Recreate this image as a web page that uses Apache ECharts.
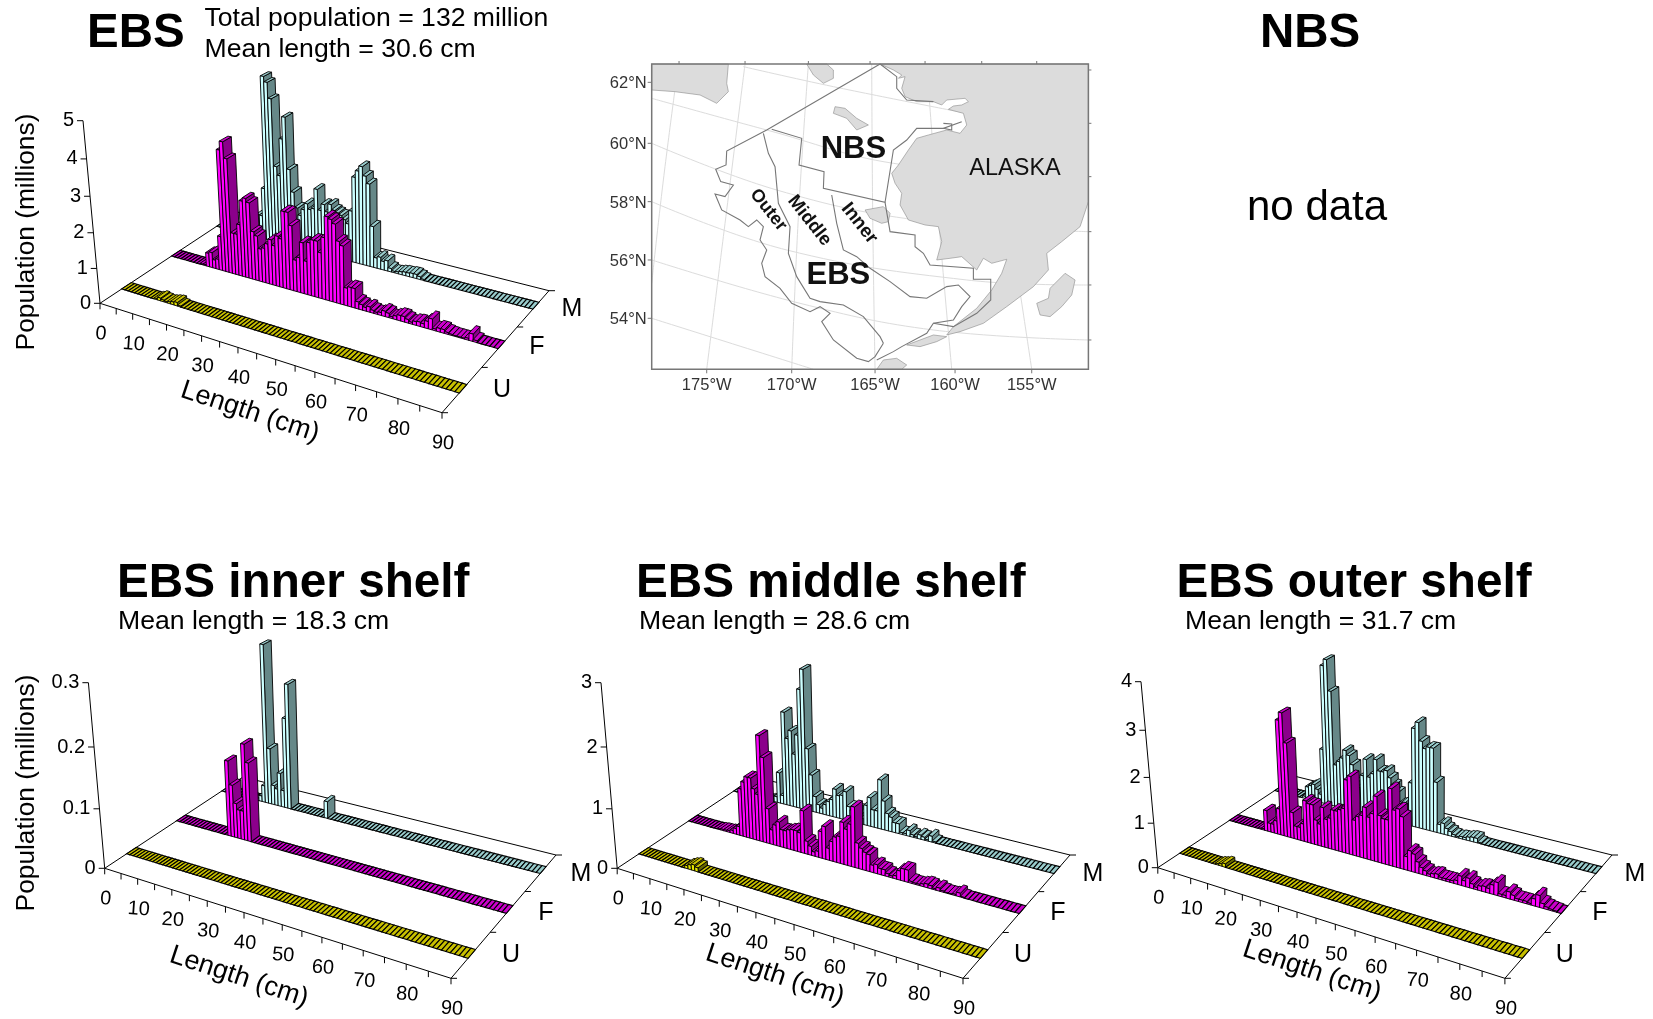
<!DOCTYPE html>
<html><head><meta charset="utf-8">
<style>html,body{margin:0;padding:0;background:#fff}#c{width:1653px;height:1019px}</style>
<script src="https://cdn.jsdelivr.net/npm/echarts@6/dist/echarts.min.js"></script>
</head><body><div id="c"></div>
<script>
// ---------- values (millions of animals per 1 cm length bin, 0..89 cm)
var ebsU=[0,0,0,0,0,0,0,0,0,0, .03,.08,.05,.03,.05,.08,.1,.03,0,0, 0,0,0,0,0,0,0,0,0,0, 0,0,0,0,0,0,0,0,0,0, 0,0,0,0,0,0,0,0,0,0, 0,0,0,0,0,0,0,0,0,0, 0,0,0,0,0,0,0,0,0,0, 0,0,0,0,0,0,0,0,0,0, 0,0,0,0,0,0,0,0,0,0];
var ebsF=[0,0,0,0,0,0,0,0,0,.02, .03,.4,.45,.25,.3,1.0,3.5,3.75,3.3,1.2, 1.2,1.5,2.2,2.3,2.2,1.4,1.3,.95,1.0,1.15, 1.3,1.15,1.45,1.4,2.2,2.2,1.85,.9,1.0,1.45, .95,1.5,1.6,1.6,1.3,1.75,2.35,2.3,2.2,1.75, 1.65,.5,.55,.55,.2,.15,.1,.15,.08,.05, .08,.15,.12,.05,.1,.15,.15,.1,.05,.1, .12,.1,.2,.3,.05,.1,.1,.05,.03,.02, .02,.02,.05,.2,.05,0,0,0,0,0];
var ebsM=[0,0,0,0,0,0,0,0,0,.02, .05,.1,.2,.7,.7,1.55,4.85,4.7,4.25,2.3, 2.05,3.15,3.8,2.3,1.65,1.2,1.0,1.2,1.4,1.25, 1.3,1.9,1.3,1.5,1.3,1.55,1.4,1.35,1.3,1.2, 1.1,1.5,2.5,2.7,2.85,2.6,2.4,1.2,.3,.35, .25,.3,.1,.04,.05,.08,.1,.1,.12,.12, .08,.03,0,0,0,0,0,0,0,0, 0,0,0,0,0,0,0,0,0,0, 0,0,0,0,0,0,0,0,0,0];
var innerU=[0,0,0,0,0,0,0,0,0,0, 0,0,0,0,0,0,0,0,0,0, 0,0,0,0,0,0,0,0,0,0, 0,0,0,0,0,0,0,0,0,0, 0,0,0,0,0,0,0,0,0,0, 0,0,0,0,0,0,0,0,0,0, 0,0,0,0,0,0,0,0,0,0, 0,0,0,0,0,0,0,0,0,0, 0,0,0,0,0,0,0,0,0,0];
var innerF=[0,0,0,0,0,0,0,0,0,0, 0,0,0,0,0,0,.13,.09,.06,.05, .05,.165,.135,0,0,0,0,0,0,0, 0,0,0,0,0,0,0,0,0,0, 0,0,0,0,0,0,0,0,0,0, 0,0,0,0,0,0,0,0,0,0, 0,0,0,0,0,0,0,0,0,0, 0,0,0,0,0,0,0,0,0,0, 0,0,0,0,0,0,0,0,0,0];
var innerM=[0,0,0,0,0,0,0,0,0,0, 0,0,.01,.03,.28,.1,.035,.03,.06,.03, .16,.22,0,0,0,0,0,0,0,0, 0,0,.03,0,0,0,0,0,0,0, 0,0,0,0,0,0,0,0,0,0, 0,0,0,0,0,0,0,0,0,0, 0,0,0,0,0,0,0,0,0,0, 0,0,0,0,0,0,0,0,0,0, 0,0,0,0,0,0,0,0,0,0];
var middleU=[0,0,0,0,0,0,0,0,0,0, 0,0,0,0,.05,.08,.1,.07,0,0, 0,0,0,0,0,0,0,0,0,0, 0,0,0,0,0,0,0,0,0,0, 0,0,0,0,0,0,0,0,0,0, 0,0,0,0,0,0,0,0,0,0, 0,0,0,0,0,0,0,0,0,0, 0,0,0,0,0,0,0,0,0,0, 0,0,0,0,0,0,0,0,0,0];
var middleF=[0,0,0,0,0,0,0,0,0,.01, .02,.02,.03,.05,.1,.15,.82,.95,1.05,1.05, .88,.8,1.8,1.45,.6,.25,.35,.42,.3,.3, .33,.35,.35,.33,.72,.22,.15,.07,.1,.45, .55,.2,.33,.42,.45,.7,.6,.7,1.0,.42, .35,.3,.28,.12,.15,.1,.1,.05,.03,.05, .15,.2,.2,.03,.02,.02,.04,.06,.05,.02, .05,.02,.01,.01,.02,.06,.01,0,0,0, 0,0,0,0,0,0,0,0,0,0];
var middleM=[0,0,0,0,0,0,0,0,0,0, 0,.02,.05,.1,.55,.15,1.65,1.2,1.35,.95, 1.3,2.1,2.45,1.1,.65,.28,.15,.1,.18,.25, .3,.5,.4,.42,.5,.25,.2,.2,.15,.1, .35,.5,.3,.3,.85,.5,.3,.25,.17,.17, .03,.03,.1,.04,.02,.07,.05,.02,.1,.02, 0,0,0,0,0,0,0,0,0,0, 0,0,0,0,0,0,0,0,0,0, 0,0,0,0,0,0,0,0,0,0];
var outerU=[0,0,0,0,0,0,0,0,0,0, 0,.03,.05,.08,0,0,0,0,0,0, 0,0,0,0,0,0,0,0,0,0, 0,0,0,0,0,0,0,0,0,0, 0,0,0,0,0,0,0,0,0,0, 0,0,0,0,0,0,0,0,0,0, 0,0,0,0,0,0,0,0,0,0, 0,0,0,0,0,0,0,0,0,0, 0,0,0,0,0,0,0,0,0,0];
var outerF=[0,0,0,0,0,0,0,0,0,.02, .03,.48,.2,.2,.3,.6,2.62,2.8,2.15,.6, .3,.3,.4,.95,.9,.9,.57,.5,.9,.65, .7,.9,.9,.95,1.0,1.65,1.75,.8,.9,.95, 1.15,.95,1.05,1.45,1.05,1.0,1.0,1.7,1.25,1.3, 1.15,.3,.45,.4,.25,.15,.1,.05,.08,.1, .05,.05,.05,.05,.08,.2,.12,.2,.1,.05, .1,.12,.1,.2,.28,.05,.05,.15,.1,.05, .05,.05,.03,.15,.25,.1,.05,.03,.02,0];
var outerM=[0,0,0,0,0,0,0,0,0,.05, .3,.35,.4,.3,.2,1.3,3.25,3.4,2.7,1.0, 1.1,1.2,1.4,1.3,1.1,.7,.6,.9,1.3,.9, 1.0,1.35,1.1,1.1,1.15,1.0,.85,.7,.45,.5, .5,1.0,2.25,2.4,2.0,1.85,1.9,1.9,1.15,.2, .25,.15,.1,.05,.03,.05,.05,.08,.1,.1, .02,0,0,0,0,0,0,0,0,0, 0,0,0,0,0,0,0,0,0,0, 0,0,0,0,0,0,0,0,0,0];
// ---------- tick labels
var lengthTicks=[0,10,20,30,40,50,60,70,80,90];
var sexLabels=['U','F','M'];
var ebsTicks=['0','1','2','3','4','5'];
var innerTicks=['0','0.1','0.2','0.3'];
var middleTicks=['0','1','2','3'];
var outerTicks=['0','1','2','3','4'];
var latLabels=['62°N','60°N','58°N','56°N','54°N'];
var lonLabels=['175°W','170°W','165°W','160°W','155°W'];

// ---------- panel layout (screen geometry of each 3-D frame)
var panels=[
 {U:ebsU,F:ebsF,M:ebsM,ticks:ebsTicks,zmax:5,O:[100,303.3],X:[442,412.7],R:[549,290.7],L:[238,212.2],Z:[83,120.7],title:[250,412]},
 {U:innerU,F:innerF,M:innerM,ticks:innerTicks,zmax:.3,O:[104.7,868.3],X:[451,978.3],R:[556,855],L:[243,777],Z:[88.4,682.7],title:[239,977]},
 {U:middleU,F:middleF,M:middleM,ticks:middleTicks,zmax:3,O:[617.2,868.3],X:[963,978.3],R:[1070,855],L:[755,777],Z:[601,682.7],title:[775,975]},
 {U:outerU,F:outerF,M:outerM,ticks:outerTicks,zmax:4,O:[1157.8,867.7],X:[1504.9,978.3],R:[1612,855],L:[1296,776.5],Z:[1141,681.7],title:[1312,971]}
];
var DEPTH={U:.42,F:1.45,M:2.48}, DW=.19;
var STYLE={U:{front:'#e6e600',side:'#666600',top:'#c8c000'},
           F:{front:'#ff00ff',side:'#8b008b',top:'#cc00cc'},
           M:{front:'#ccffff',side:'#668888',top:'#99cccc'}};
var FONT='"Liberation Sans",Arial,sans-serif';

function makeCamera(p){
  var x0=p.O[0],y0=p.O[1],x1=p.X[0],y1=p.X[1],x2=p.R[0],y2=p.R[1],x3=p.L[0],y3=p.L[1];
  var dx1=x1-x2,dx2=x3-x2,dx3=x0-x1+x2-x3,dy1=y1-y2,dy2=y3-y2,dy3=y0-y1+y2-y3;
  var den=dx1*dy2-dx2*dy1,g=(dx3*dy2-dx2*dy3)/den,h=(dx1*dy3-dx3*dy1)/den;
  var a=x1-x0+g*x1,b=x3-x0+h*x3,c=x0,d=y1-y0+g*y1,e=y3-y0+h*y3,f=y0;
  var lean=(x0-p.Z[0])/(y0-p.Z[1]);
  var VY=y0+3100,VX=x0+3100*lean,s=(p.Z[1]-y0)/(VY-p.Z[1]);
  // u: 0..1 along length, v: 0..3 depth, n: 0..1 height
  return function(u,v,n){
    v=v/3;
    var X=a*u+b*v+c+n*s*VX,Y=d*u+e*v+f+n*s*VY,W=g*u+h*v+1+n*s;
    return [X/W,Y/W];
  };
}
panels.forEach(function(p){p.cam=makeCamera(p);});

// read a (length,value) pair through the hidden cartesian axes, return normalised position
function norm(params,api,len,val){
  var cs=params.coordSys,pt=api.coord([len,val]);
  return [(pt[0]-cs.x)/cs.width,(cs.y+cs.height-pt[1])/cs.height];
}
function barSeries(pi,key){
  var p=panels[pi],st=STYLE[key],d0=DEPTH[key],d1=d0+DW;
  return {type:'custom',xAxisIndex:pi,yAxisIndex:pi,silent:true,animation:false,clip:false,
    data:p[key].map(function(v,i){return [i,v];}),
    renderItem:function(params,api){
      var c=api.value(0),v=api.value(1);
      var a=norm(params,api,c,v),b=norm(params,api,c+1,v);
      var n=a[1],u0=a[0],u1=b[0],cam=p.cam,kids=[];
      function poly(pts,fill,lw){kids.push({type:'polygon',shape:{points:pts},style:{fill:fill,stroke:'#000',lineWidth:lw}});}
      if(v>0){
        poly([cam(u1,d0,0),cam(u1,d1,0),cam(u1,d1,n),cam(u1,d0,n)],st.side,.9);
        poly([cam(u0,d0,n),cam(u1,d0,n),cam(u1,d1,n),cam(u0,d1,n)],st.top,.9);
        poly([cam(u0,d0,0),cam(u1,d0,0),cam(u1,d0,n),cam(u0,d0,n)],st.front,.9);
      } else {
        poly([cam(u0,d0,0),cam(u1,d0,0),cam(u1,d1,0),cam(u0,d1,0)],st.top,1.1);
      }
      return {type:'group',children:kids};
    }};
}
function frameSeries(pi){
  var p=panels[pi];
  return {type:'custom',xAxisIndex:pi,yAxisIndex:pi,silent:true,animation:false,clip:false,data:[[0,0]],
    renderItem:function(params,api){
      var cam=p.cam,k=[];
      function ln(a,b){k.push({type:'line',shape:{x1:a[0],y1:a[1],x2:b[0],y2:b[1]},style:{stroke:'#000',lineWidth:1}});}
      function tx(t,x,y,font,align,rot){k.push({type:'text',x:x,y:y,rotation:rot||0,style:{text:t,x:0,y:0,fill:'#000',font:font,align:align||'center',verticalAlign:'middle'}});}
      ln(cam(0,0,0),cam(1,0,0));ln(cam(1,0,0),cam(1,3,0));ln(cam(1,3,0),cam(0,3,0));ln(cam(0,3,0),cam(0,0,0));ln(cam(0,0,0),cam(0,0,1));
      for(var c=0;c<=90;c+=5){
        var q=cam(norm(params,api,c,0)[0],0,0);
        ln(q,[q[0],q[1]+6]);
      }
      lengthTicks.forEach(function(c){
        var q=cam(norm(params,api,c,0)[0],0,0);
        tx(String(c),q[0]+1,q[1]+30.5,'20px '+FONT,'center',-.07);
      });
      p.ticks.forEach(function(t,i){
        var q=cam(0,0,norm(params,api,0,+t)[1]);
        ln(q,[q[0]-6,q[1]]);
        tx(t,q[0]-9,q[1],'20px '+FONT,'right');
      });
      for(var d=0;d<=3;d++){var r=cam(1,d,0);ln(r,[r[0]+6,r[1]]);}
      var off=[[60,-23],[95,-65.5],[130,-104]];
      sexLabels.forEach(function(s,i){tx(s,p.X[0]+off[i][0],p.X[1]+off[i][1],'25px '+FONT);});
      tx('Length (cm)',p.title[0],p.title[1],'27px '+FONT,'center',-.32);
      return {type:'group',children:k};
    }};
}

// ---------- map (shapes in map units)
var alaska=[[840,42],[880,60],[905,75],[895,85],[915,80],[905,115],[915,140],[950,155],[1000,155],[1025,165],[1040,150],[1095,145],[1105,155],[1085,165],[1060,168],[1045,178],[1090,190],[1100,225],[1080,250],[1040,240],[985,255],[950,265],[925,300],[895,345],[875,370],[885,400],[905,430],[900,465],[925,510],[975,525],[1015,530],[1025,575],[1010,630],[1050,625],[1085,620],[1130,660],[1150,625],[1175,640],[1220,628],[1205,670],[1175,720],[1130,775],[1060,830],[1040,855],[1080,845],[1150,820],[1220,770],[1300,710],[1345,660],[1340,610],[1385,575],[1440,530],[1465,455],[1465,42]];
var siberia=[[155,42],[385,42],[380,100],[385,125],[350,160],[300,135],[225,125],[155,120]];
var chukotkaTip=[[620,42],[640,75],[670,100],[700,85],[700,60],[680,42]];
var stLawrence=[[705,170],[735,175],[770,205],[805,225],[770,240],[740,205],[700,190]];
var nunivak=[[795,480],[850,470],[870,490],[865,515],[845,520],[810,505]];
var unimak=[[920,885],[960,870],[1000,855],[1040,860],[1010,875],[960,890]];
var unalaska=[[830,958],[850,930],[890,925],[920,945],[905,958]];
var kodiak=[[1310,760],[1345,745],[1350,715],[1395,670],[1425,690],[1415,735],[1385,770],[1350,800],[1320,795]];
var landShapes=[alaska,siberia,chukotkaTip,stLawrence,nunivak,unimak,unalaska,kodiak];
var gratLines=[
 [[320,958],[370,560],[435,42]],[[575,958],[595,500],[625,42]],[[825,958],[818,500],[815,42]],[[1055,958],[1015,500],[980,42]],[[1295,958],[1225,500],[1150,42]],
 [[155,700],[190,390],[235,42]],
 [[430,50],[700,110],[1100,190]],
 [[155,145],[500,240],[880,340],[1465,390]],
 [[155,280],[530,420],[950,510],[1465,545]],
 [[155,455],[560,600],[1100,690],[1465,705]],
 [[155,630],[600,760],[1000,840],[1465,870]],
 [[155,805],[640,958]]];
var shelfLines=[
 [[840,42],[500,240],[380,303],[378,345],[347,358],[362,395],[400,405],[375,440],[345,432],[365,480],[420,510],[445,530],[470,510],[490,530],[480,570],[500,600],[485,640],[495,680],[540,715],[575,760],[630,785],[660,770],[690,790],[665,815],[700,870],[770,925],[805,935],[825,920],[850,880]],
 [[490,250],[505,310],[525,350],[535,460],[570,530],[565,610],[590,680],[630,745],[660,755],[730,765],[790,800],[840,860],[850,880]],
 [[695,435],[710,520],[730,600],[770,620],[810,655],[870,695],[930,740],[980,745],[1040,710],[1075,705],[1110,740],[1085,770],[1060,810],[1000,820],[980,850],[905,890],[880,905],[830,930]],
 [[515,238],[605,265],[597,345],[672,365],[670,415],[855,457],[880,300],[920,270],[950,235],[1030,235],[1085,215]],
 [[1030,220],[1055,222],[1055,240],[1030,235]],
 [[855,457],[870,545],[945,555],[945,590],[970,610],[990,645],[1120,655],[1120,688],[1172,688],[1172,750],[1130,790],[1060,830],[1000,820]],
 [[840,42],[890,80],[890,115],[920,150],[1000,155]]];
var latTickY=[97,280,455,630,805], lonTickX=[320,575,825,1065,1295];
var topTickX=[237,435,625,810,975,1145,1310], rightTickY=[60,220,380,545,705,870];
var mapTexts=[['NBS',760,298,'bold 31px',0],['EBS',715,676,'bold 31px',0],['ALASKA',1245,356,'23.5px',0],['Outer',505,480,'bold 18px',-.9],['Middle',628,512,'bold 18.5px',-.9],['Inner',778,520,'bold 19px',-.9]];

var mapSeries={type:'custom',xAxisIndex:4,yAxisIndex:4,silent:true,animation:false,clip:false,data:[[155,42]],
  renderItem:function(params,api){
    var k=[];function P(q){return api.coord(q);}
    gratLines.forEach(function(l){k.push({type:'polyline',shape:{points:l.map(P),smooth:.4},style:{fill:null,stroke:'#dcdcdc',lineWidth:1}});});
    landShapes.forEach(function(l){k.push({type:'polygon',shape:{points:l.map(P)},style:{fill:'#dcdcdc',stroke:'#8a8a8a',lineWidth:.6}});});
    shelfLines.forEach(function(l){k.push({type:'polyline',shape:{points:l.map(P)},style:{fill:null,stroke:'#777',lineWidth:1.1}});});
    var a=P([155,42]),b=P([1465,958]);
    k.push({type:'rect',shape:{x:a[0],y:a[1],width:b[0]-a[0],height:b[1]-a[1]},style:{fill:null,stroke:'#777',lineWidth:1.5}});
    function tk(x,y,dx,dy){var q=P([x,y]);k.push({type:'line',shape:{x1:q[0],y1:q[1],x2:q[0]+dx,y2:q[1]+dy},style:{stroke:'#777',lineWidth:1}});}
    latTickY.forEach(function(y,i){tk(155,y,-4,0);var q=P([155,y]);k.push({type:'text',x:q[0]-5,y:q[1]+1.5,style:{text:latLabels[i],x:0,y:0,fill:'#333',font:'16.5px '+FONT,align:'right',verticalAlign:'middle'}});});
    lonTickX.forEach(function(x,i){tk(x,958,0,4);var q=P([x,958]);k.push({type:'text',x:q[0],y:q[1]+16,style:{text:lonLabels[i],x:0,y:0,fill:'#333',font:'16.5px '+FONT,align:'center',verticalAlign:'middle'}});});
    topTickX.forEach(function(x){tk(x,42,0,-3);});
    rightTickY.forEach(function(y){tk(1465,y,3,0);});
    mapTexts.forEach(function(t){var q=P([t[1],t[2]]);k.push({type:'text',x:q[0],y:q[1],rotation:t[4],style:{text:t[0],x:0,y:0,fill:'#111',font:t[3]+' '+FONT,align:'center',verticalAlign:'middle'}});});
    return {type:'group',children:k};
  }};

// ---------- hidden cartesian systems
var grids=[],xAxes=[],yAxes=[],series=[];
panels.forEach(function(p,i){
  grids.push({left:p.O[0],top:p.Z[1],width:p.X[0]-p.O[0],height:p.O[1]-p.Z[1]});
  xAxes.push({type:'value',gridIndex:i,min:0,max:90,show:false});
  yAxes.push({type:'value',gridIndex:i,min:0,max:p.zmax,show:false});
  series.push(frameSeries(i),barSeries(i,'M'),barSeries(i,'F'),barSeries(i,'U'));
});
grids.push({left:651.7,top:64,width:436.7,height:305.3});
xAxes.push({type:'value',gridIndex:4,min:155,max:1465,show:false});
yAxes.push({type:'value',gridIndex:4,min:42,max:958,inverse:true,show:false});
series.push(mapSeries);

function T(t,x,y,font,align,rot){return {type:'text',x:x,y:y,rotation:rot||0,silent:true,style:{text:t,x:0,y:0,fill:'#000',font:font+' '+FONT,align:align||'left',verticalAlign:'middle'}};}
var chart=echarts.init(document.getElementById('c'),null,{width:1653,height:1019});
chart.setOption({animation:false,backgroundColor:'#fff',grid:grids,xAxis:xAxes,yAxis:yAxes,series:series,
 graphic:{elements:[
  T('EBS',87,34,'bold 47.5px'),T('NBS',1260,34,'bold 47.5px'),
  T('Total population = 132 million',204.5,18.5,'26.6px'),T('Mean length = 30.6 cm',204.5,49.5,'26.6px'),
  T('no data',1247,208.5,'42px'),
  T('EBS inner shelf',117,584,'bold 47.7px'),T('EBS middle shelf',636,584,'bold 47.7px'),T('EBS outer shelf',1176.5,584,'bold 47.7px'),
  T('Mean length = 18.3 cm',118,621.5,'26.6px'),T('Mean length = 28.6 cm',639,621.5,'26.6px'),T('Mean length = 31.7 cm',1185,621.5,'26.6px'),
  T('Population (millions)',27,232,'26.3px','center',Math.PI/2),T('Population (millions)',27,793,'26.3px','center',Math.PI/2)
 ]}});
</script></body></html>
